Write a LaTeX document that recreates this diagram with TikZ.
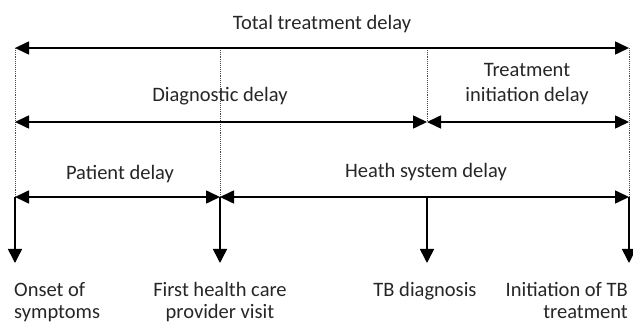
\documentclass[tikz,border=0pt]{standalone}
\usepackage{fontspec}
\setmainfont{Carlito}
\usetikzlibrary{arrows.meta}

\tikzset{
  span/.style={{Triangle[length=14pt,width=13pt]}-{Triangle[length=14pt,width=13pt]}, line width=1.6pt},
  drop/.style={-{Triangle[length=14pt,width=14pt]}, line width=1.6pt},
  guide/.style={densely dotted, line width=0.9pt, black!70},
  lbl/.style={font=\fontsize{20.5}{25}\selectfont, inner sep=0pt, text=black!85},
  event/.style={lbl, font=\fontsize{20.5}{22}\selectfont}
}

\begin{document}
\begin{tikzpicture}[x=1pt,y=-1pt]
	\useasboundingbox (0,0) rectangle (633,323);
	% time points on each row
	\foreach \n/\x in {onset/15, visit/220, diag/427, start/629} {
		\coordinate (\n-a) at (\x,48);
		\coordinate (\n-b) at (\x,122);
		\coordinate (\n-c) at (\x,197);
		\coordinate (\n-d) at (\x,263);
	}
	% dotted guides
	\draw[guide] (onset-a) -- (onset-c);
	\draw[guide] (visit-a) -- (visit-c);
	\draw[guide] (diag-a) -- (diag-b);
	\draw[guide] (start-a) -- (start-c);
	% delay spans
	\draw[span] (onset-a) -- (start-a);
	\draw[span] (onset-b) -- (diag-b);
	\draw[span] (diag-b) -- (start-b);
	\draw[span] (onset-c) -- (visit-c);
	\draw[span] (visit-c) -- (start-c);
	\foreach \n in {onset, visit, diag, start}
		\draw[drop] (\n-c) -- (\n-d);
	% span labels (base of a two-line node is its last line)
	\node[lbl, anchor=base] (total) at (322,30) {Total treatment delay};
	\node[lbl, anchor=base] (diagdelay) at (220,102) {Diagnostic delay};
	\node[lbl, anchor=base, align=center] (initdelay) at (527,102) {Treatment\\initiation delay};
	\node[lbl, anchor=base] (patient) at (120,180) {Patient delay};
	\node[lbl, anchor=base] (health) at (426,178) {Heath system delay};
	% event labels
	\node[event, anchor=base west, align=left] (onsetlbl) at (14,319) {Onset of\\symptoms};
	\node[event, anchor=base, align=center] (visitlbl) at (220,319) {First health care\\provider visit};
	\node[event, anchor=base] (diaglbl) at (425,297) {TB diagnosis};
	\node[event, anchor=base east, align=right] (startlbl) at (628,319) {Initiation of TB\\treatment};
\end{tikzpicture}
\end{document}
